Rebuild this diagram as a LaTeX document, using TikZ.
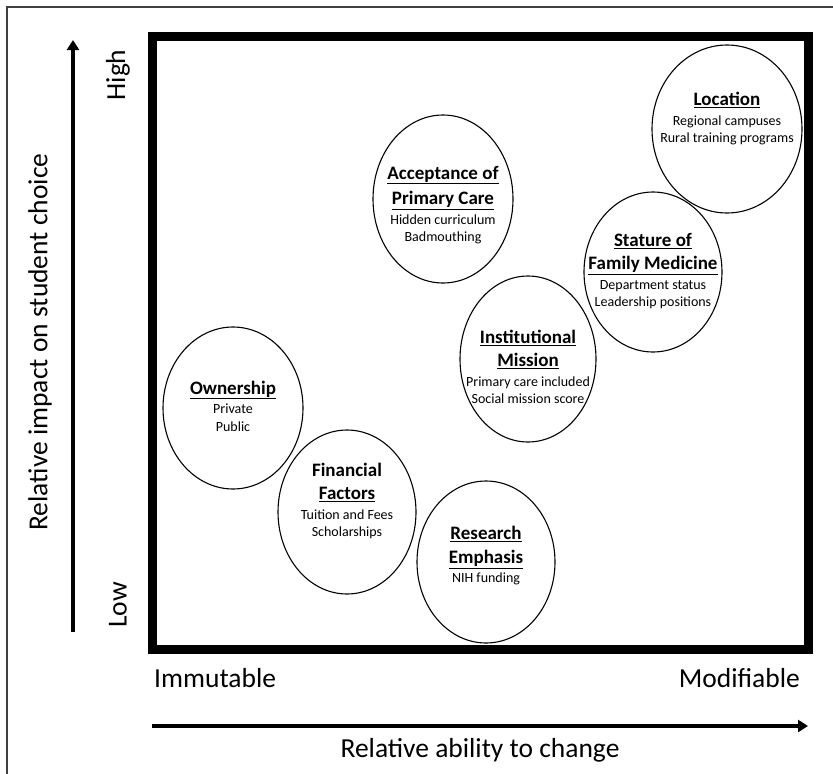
\documentclass[tikz,border=0pt]{standalone}
\usepackage{fontspec}
\setmainfont{Carlito}
\usetikzlibrary{shapes.geometric,arrows.meta}

\newcommand{\titre}[1]{{\fontsize{19}{24}\selectfont\bfseries\underline{#1}}}

\begin{document}
\begin{tikzpicture}[x=1pt,y=-1pt,
  facteur/.style={ellipse, draw, line width=1.1pt, inner sep=0pt},
  texte/.style={align=center, inner sep=0pt, font=\fontsize{14}{17.5}\selectfont},
  axe/.style={font=\fontsize{27.5}{32}\selectfont, inner sep=0pt},
  fleche/.style={line width=3.4pt, -{Triangle[length=10pt,width=12pt]}}]
  \useasboundingbox (0,0) rectangle (833,774);

  % cadres
  \draw[line width=1.3pt, black!75] (7,774) -- (7,7) -- (833,7);
  \draw[line width=9pt] (152,36) rectangle (808,649);

  % axes
  \coordinate (ybas) at (73,632);
  \coordinate (yhaut) at (73,40);
  \coordinate (xg) at (152,726);
  \coordinate (xd) at (808,726);
  \draw[fleche] (ybas) -- (yhaut);
  \draw[fleche] (xg) -- (xd);

  \node[axe, rotate=90] (yaxe) at (40,342) {Relative impact on student choice};
  \node[axe, rotate=90] (haut) at (118,75) {High};
  \node[axe, rotate=90] (bas) at (118,605) {Low};
  \node[axe, anchor=west] (immu) at (154,678) {Immutable};
  \node[axe, anchor=east] (modi) at (800,678) {Modifiable};
  \node[axe] (xaxe) at (480,750) {Relative ability to change};

  % ellipses
  \node[facteur, minimum width=150pt, minimum height=168pt] (loc) at (727,129) {};
  \node[facteur, minimum width=138pt, minimum height=160pt] (stat) at (653,272) {};
  \node[facteur, minimum width=140pt, minimum height=168pt] (acc) at (443,199) {};
  \node[facteur, minimum width=136pt, minimum height=166pt] (inst) at (528,359) {};
  \node[facteur, minimum width=140pt, minimum height=162pt] (own) at (233,408) {};
  \node[facteur, minimum width=138pt, minimum height=164pt] (fin) at (347,512) {};
  \node[facteur, minimum width=138pt, minimum height=162pt] (res) at (486,562) {};

  % textes
  \node[texte] (loc-t) at (727,119) {\titre{Location}\\[2pt] Regional campuses\\ Rural training programs};
  \node[texte] (stat-t) at (653,271) {\titre{Stature of}\\[6pt] \titre{Family Medicine}\\[2pt] Department status\\ Leadership positions};
  \node[texte] (acc-t) at (443,205) {\titre{Acceptance of}\\[6pt] \titre{Primary Care}\\[2pt] Hidden curriculum\\ Badmouthing};
  \node[texte] (inst-t) at (528,367) {\titre{Institutional}\\[6pt] \titre{Mission}\\[2pt] Primary care included\\ Social mission score};
  \node[texte] (own-t) at (233,406) {\titre{Ownership}\\[2pt] Private\\ Public};
  \node[texte] (fin-t) at (347,501) {{\fontsize{19}{24}\selectfont\bfseries Financial}\\[6pt] \titre{Factors}\\[2pt] Tuition and Fees\\ Scholarships};
  \node[texte] (res-t) at (486,556) {\titre{Research}\\[6pt] \titre{Emphasis}\\[2pt] NIH funding};
\end{tikzpicture}
\end{document}
